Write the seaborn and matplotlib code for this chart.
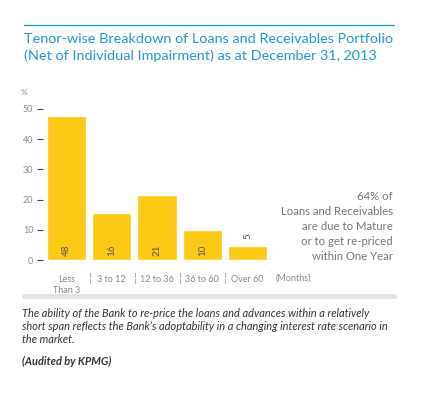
import numpy as np
import pandas as pd
import matplotlib.pyplot as plt
import seaborn as sns
from matplotlib.lines import Line2D

# Data
tenors = ['Less\nThan 3', '3 to 12', '12 to 36', '36 to 60', 'Over 60']
shares = [47.6, 15.7, 21.4, 10.0, 4.7]
shown = [48, 16, 21, 10, 5]
y_ticks = [0, 10, 20, 30, 40, 50]

title = ('Tenor-wise Breakdown of Loans and Receivables Portfolio\n'
         '(Net of Individual Impairment) as at December 31, 2013')
side_note = ('64% of\nLoans and Receivables\nare due to Mature\n'
             'or to get re-priced\nwithin One Year')
body = ('The ability of the Bank to re-price the loans and advances within a relatively\n'
        'short span reflects the Bank\u2019s adoptability in a changing interest rate scenario in\n'
        'the market.')

sns.set_theme(style='white')
plt.rcParams['font.family'] = ['Lato', 'DejaVu Sans']

W, H = 422, 396
fig = plt.figure(figsize=(W / 100, H / 100), dpi=100)

# Rules at top and under the chart
fig.add_artist(Line2D([24 / W, 394 / W], [1 - 25 / H, 1 - 25 / H], color='#1e9bd7', lw=0.9))
fig.add_artist(Line2D([24 / W, 394 / W], [1 - 296 / H, 1 - 296 / H], color='#e3e3e3', lw=3.5))

fig.text(24 / W, 1 - 33 / H, title, color='#1e9bd7', fontsize=10.4, va='top', ha='left',
         linespacing=1.45)

# Chart area
ax = fig.add_axes([43 / W, 1 - 260 / H, 228 / W, 151 / H])
df = pd.DataFrame({'tenor': tenors, 'share': shares})
sns.barplot(data=df, x='tenor', y='share', color='#fcc917', saturation=1, width=0.87,
            ax=ax)
ax.set_xlim(-0.52, 4.52)
ax.set_ylim(0, 50)
for s in ax.spines.values():
    s.set_visible(False)
ax.set_yticks(y_ticks)
ax.tick_params(axis='y', left=True, length=4, width=0.8, color='#444444', pad=3,
               labelsize=6.5, labelcolor='#8a8a8a')
ax.tick_params(axis='x', bottom=False, length=0, pad=10.5, labelsize=6.5,
               labelcolor='#8a8a8a')
for lab in ax.get_xticklabels():
    lab.set_linespacing(1.35)
ax.set_xlabel('')
ax.set_ylabel('')
ax.text(-0.085, 1.11, '%', transform=ax.transAxes, fontsize=6, color='#8a8a8a',
        ha='center', va='center')

# Value labels (inside bars, last one above)
for i, (v, lab) in enumerate(zip(shares, shown)):
    if v > 8:
        ax.text(i, 1.2, str(lab), rotation=90, ha='center', va='bottom', fontsize=7,
                color='#555555')
    else:
        ax.text(i, v + 2.2, str(lab), rotation=90, ha='center', va='bottom', fontsize=7,
                color='#555555')

# Separators between tick labels
for i in range(len(tenors) - 1):
    ax.text(i + 0.52, -6.0, '\u00a6', ha='center', va='center', fontsize=8,
            color='#9a9a9a', clip_on=False)
ax.text(4.62, -6.0, '(Months)', ha='left', va='center', fontsize=6.5, color='#8a8a8a',
        clip_on=False)

fig.text(393 / W, 1 - 191 / H, side_note, ha='right', va='top', fontsize=8.2,
         color='#777777', linespacing=1.45)

fig.text(22 / W, 1 - 308 / H, body, ha='left', va='top', fontsize=7.9, style='italic',
         color='#333333', linespacing=1.2)
fig.text(22 / W, 1 - 356 / H, '(Audited by KPMG)', ha='left', va='top', fontsize=7.9,
         style='italic', weight='bold', color='#333333')

fig.savefig('out.png', dpi=100)
